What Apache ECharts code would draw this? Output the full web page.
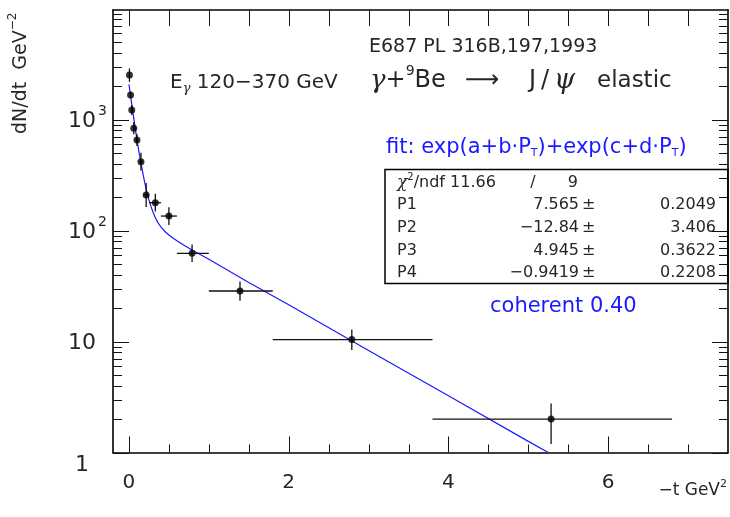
<!DOCTYPE html>
<html><head><meta charset="utf-8">
<script src="https://cdn.jsdelivr.net/npm/echarts@6/dist/echarts.min.js"></script>
<style>html,body{margin:0;padding:0;background:#fff}#c{width:730px;height:517px}</style>
</head><body><div id="c"></div>
<script>
// ---------- data ----------
const tValues = [0.006, 0.02, 0.035, 0.06, 0.10, 0.15, 0.215, 0.33, 0.50, 0.79, 1.39, 2.79, 5.285];
const tLow    = [0.001, 0.013, 0.027, 0.048, 0.08, 0.125, 0.18, 0.25, 0.40, 0.60, 1.00, 1.80, 3.80];
const tHigh   = [0.011, 0.027, 0.043, 0.072, 0.12, 0.175, 0.25, 0.40, 0.60, 1.00, 1.80, 3.80, 6.80];
const yValues = [2514, 1660, 1218, 834, 653, 417, 209, 178, 135, 62.3, 28.5, 10.4, 2.0];
const yLow    = [2188, 1549, 1098, 737, 577, 347, 163, 148, 112, 52, 23.3, 8.4, 1.19];
const yHigh   = [2884, 1778, 1349, 944, 740, 501, 268, 214, 162, 75, 34.8, 12.8, 2.77];

const fitT = [0, 0.0125, 0.025, 0.0375, 0.05, 0.0625, 0.075, 0.0875, 0.1, 0.125, 0.15, 0.175, 0.2, 0.225, 0.25, 0.275, 0.3, 0.325, 0.35, 0.375, 0.4, 0.45, 0.5, 0.55, 0.6, 0.7, 0.8, 1.0, 1.5, 2.0, 3.0, 4.0, 5.0, 5.25];
const fitY = [2070, 1780, 1537, 1330, 1149, 998, 867, 755, 662, 512, 403, 325, 264, 221, 189, 165, 147, 133, 122, 114, 108, 98, 91, 85.5, 81, 73, 66, 55, 34, 21.4, 8.3, 3.25, 1.26, 1.0];

const xMajorTicks = [0, 2, 4, 6];
const xMinorTicks = [0.5, 1, 1.5, 2.5, 3, 3.5, 4.5, 5, 5.5, 6.5, 7];
const xTopTicks = [0, 0.5, 1, 1.5, 2, 2.5, 3, 3.5, 4, 4.5, 5, 5.5, 6, 6.5, 7];
const yMajorTicks = [1, 10, 100, 1000];
const yTickBase = ['1', '10', '10', '10'];
const yTickExp = ['', '', '2', '3'];
const yMinorTicks = [2,3,4,5,6,7,8,9,20,30,40,50,60,70,80,90,200,300,400,500,600,700,800,900,2000,3000,4000,5000,6000,7000,8000,9000];

const statNames = ['P1', 'P2', 'P3', 'P4'];
const statValues = ['7.565', '\u221212.84', '4.945', '\u22120.9419'];
const statErrors = ['0.2049', '3.406', '0.3622', '0.2208'];

const X_MIN = -0.2, X_MAX = 7.5, Y_MIN = 1, Y_MAX = 9700;

// ---------- helpers ----------
const F = '"DejaVu Sans", "Liberation Sans", sans-serif';
const FS = '"DejaVu Serif", "Liberation Serif", serif';
const f = (s, extra) => (extra ? extra + ' ' : '') + s + 'px ' + F;
const fi = (s) => 'italic ' + s + 'px ' + FS;
const TXT = '#262626', BLUE = '#1a1aff';
const cv = document.createElement('canvas').getContext('2d');
function tw(t, font) { cv.font = font; return cv.measureText(t).width; }
function run(x, y, segs, fill, align) {
  const ws = segs.map(s => tw(s.t, s.font));
  const tot = ws.reduce((a, b) => a + b, 0);
  let cx = align === 'right' ? x - tot : align === 'center' ? x - tot / 2 : x;
  return segs.map((s, i) => {
    const e = { type: 'text', x: cx + (s.dx || 0), y: y + (s.dy || 0), silent: true,
      style: { text: s.t, font: s.font, fill: s.fill || fill, align: 'left', verticalAlign: 'middle' } };
    cx += ws[i] + (s.dx || 0);
    return e;
  });
}

// tick data: [x, y, side, major]
const tickData = [];
xMajorTicks.forEach(v => tickData.push([v, Y_MIN, 0, 1]));
xMinorTicks.forEach(v => tickData.push([v, Y_MIN, 0, 0]));
xTopTicks.forEach(v => tickData.push([v, Y_MIN, 1, 1]));
yMajorTicks.forEach(v => { tickData.push([X_MIN, v, 2, 1]); tickData.push([X_MIN, v, 3, 1]); });
yMinorTicks.forEach(v => { tickData.push([X_MIN, v, 2, 0]); tickData.push([X_MIN, v, 3, 0]); });

const errData = tValues.map((t, i) => [t, yValues[i], tLow[i], tHigh[i], yLow[i], yHigh[i]]);
const ptData = tValues.map((t, i) => [t, yValues[i]]);
const fitData = fitT.map((t, i) => [t, fitY[i]]);
const yLabData = yMajorTicks.map((v, i) => [X_MIN, v, i]);

const chart = echarts.init(document.getElementById('c'), null, { renderer: 'canvas' });

const graphics = [];
// titles
graphics.push(...run(369, 47, [{ t: 'E687 PL 316B,197,1993', font: f(19) }], TXT));
graphics.push(...run(370, 81, [
  { t: '\u03b3', font: fi(26) }, { t: '+', font: f(24) }, { t: '9', font: f(14), dy: -10 },
  { t: 'Be', font: f(24) }
], TXT));
graphics.push(...run(465, 81, [{ t: '\u27f6', font: f(24) }], TXT));
graphics.push(...run(529, 81, [{ t: 'J', font: f(24) }], TXT));
graphics.push(...run(541, 81, [{ t: '/', font: f(24) }], TXT));
graphics.push(...run(554, 81, [{ t: '\u03c8', font: fi(27) }], TXT));
graphics.push(...run(597, 81, [{ t: 'elastic', font: f(23) }], TXT));
graphics.push(...run(170, 83, [
  { t: 'E', font: f(20) }, { t: '\u03b3', font: fi(13), dy: 6 }, { t: ' 120\u2212370 GeV', font: f(20) }
], TXT));
graphics.push(...run(386, 148, [
  { t: 'fit: exp(a+b\u00b7P', font: f(21) }, { t: 'T', font: f(11), dy: 5 },
  { t: ')+exp(c+d\u00b7P', font: f(21) }, { t: 'T', font: f(11), dy: 5 }, { t: ')', font: f(21) }
], BLUE));
graphics.push(...run(490, 307, [{ t: 'coherent 0.40', font: f(21) }], BLUE));
// stats box
graphics.push({ type: 'rect', silent: true, shape: { x: 385, y: 169.5, width: 343, height: 114 },
  style: { fill: 'none', stroke: '#000', lineWidth: 1.5 } });
graphics.push(...run(397, 183, [
  { t: '\u03c7', font: fi(17) }, { t: '2', font: f(10), dy: -6 }, { t: '/ndf 11.66', font: f(16) }
], TXT));
graphics.push(...run(533, 183, [{ t: '/', font: f(16) }], TXT, 'center'));
graphics.push(...run(578, 183, [{ t: '9', font: f(16) }], TXT, 'right'));
statNames.forEach((n, i) => {
  const y = 205 + i * 22.7;
  graphics.push(...run(397, y, [{ t: n, font: f(16) }], TXT));
  graphics.push(...run(579, y, [{ t: statValues[i], font: f(16) }], TXT, 'right'));
  graphics.push(...run(582, y, [{ t: '\u00b1', font: f(16) }], TXT));
  graphics.push(...run(716, y, [{ t: statErrors[i], font: f(16) }], TXT, 'right'));
});
// axis titles
graphics.push({ type: 'group', x: 21, y: 134, rotation: Math.PI / 2,
  children: run(0, 0, [{ t: 'dN/dt  GeV', font: f(19) }, { t: '\u22122', font: f(12), dy: -8 }], TXT) });
graphics.push(...run(727, 491, [{ t: '\u2212t GeV', font: f(17) }, { t: '2', font: f(11), dy: -7 }], TXT, 'right'));

const axisLineStyle = { show: true, onZero: false, lineStyle: { color: '#000', width: 1.6 } };
const option = {
  animation: false,
  backgroundColor: '#fff',
  grid: { left: 113, right: 2, top: 10, bottom: 64.5, containLabel: false, outerBoundsMode: 'none' },
  xAxis: [
    { type: 'value', position: 'bottom', min: X_MIN, max: X_MAX,
      axisLine: axisLineStyle, axisTick: { show: false }, splitLine: { show: false },
      axisLabel: { customValues: xMajorTicks, fontSize: 20, fontFamily: F, color: TXT, margin: 20,
        formatter: v => (Math.abs(v % 2) < 1e-9 && v >= 0) ? String(v) : '' } },
    { type: 'value', position: 'top', min: X_MIN, max: X_MAX,
      axisLine: axisLineStyle, axisTick: { show: false }, splitLine: { show: false }, axisLabel: { show: false } }
  ],
  yAxis: [
    { type: 'log', logBase: 10, position: 'left', min: Y_MIN, max: Y_MAX,
      axisLine: axisLineStyle, axisTick: { show: false }, splitLine: { show: false }, axisLabel: { show: false } },
    { type: 'log', logBase: 10, position: 'right', min: Y_MIN, max: Y_MAX,
      axisLine: axisLineStyle, axisTick: { show: false }, splitLine: { show: false }, axisLabel: { show: false } }
  ],
  series: [
    { type: 'custom', name: 'ticks', xAxisIndex: 0, yAxisIndex: 0, silent: true, clip: false, z: 5,
      data: tickData,
      renderItem: (params, api) => {
        const cs = params.coordSys;
        const side = api.value(2), major = api.value(3);
        let x1, y1, x2, y2;
        if (side === 0 || side === 1) {
          const p = api.coord([api.value(0), Y_MIN]);
          const x = Math.round(p[0]) + 0.5;
          const len = major ? 16 : 8;
          x1 = x2 = x;
          if (side === 0) { y1 = cs.y + cs.height; y2 = y1 - len; } else { y1 = cs.y; y2 = y1 + len; }
        } else {
          const p = api.coord([X_MIN, api.value(1)]);
          const y = Math.round(p[1]) + 0.5;
          const len = major ? 16 : 9;
          y1 = y2 = y;
          if (side === 2) { x1 = cs.x; x2 = x1 + len; } else { x1 = cs.x + cs.width; x2 = x1 - len; }
        }
        return { type: 'line', shape: { x1, y1, x2, y2 }, style: { stroke: '#111', lineWidth: 1 } };
      } },
    { type: 'custom', name: 'ylabels', xAxisIndex: 0, yAxisIndex: 0, silent: true, clip: false,
      data: yLabData,
      renderItem: (params, api) => {
        const cs = params.coordSys;
        const i = api.value(2);
        const p = api.coord([X_MIN, api.value(1)]);
        const low = i === 0 ? 13 : 2;
        const children = [{ type: 'text', x: cs.x - 31, y: p[1] + low,
          style: { text: yTickBase[i], font: f(22), fill: TXT, align: 'center', verticalAlign: 'middle' } }];
        if (yTickExp[i]) children.push({ type: 'text', x: cs.x - 15, y: p[1] - 8,
          style: { text: yTickExp[i], font: f(14), fill: TXT, align: 'left', verticalAlign: 'middle' } });
        return { type: 'group', children };
      } },
    { type: 'line', name: 'fit', data: fitData, showSymbol: false, symbol: 'none', smooth: false,
      lineStyle: { color: BLUE, width: 1.2 }, z: 2, clip: true },
    { type: 'custom', name: 'errors', silent: true, z: 3, data: errData,
      renderItem: (params, api) => {
        const t = api.value(0), y = api.value(1);
        const a = api.coord([api.value(2), y]), b = api.coord([api.value(3), y]);
        const c = api.coord([t, api.value(4)]), d = api.coord([t, api.value(5)]);
        const st = { stroke: '#111', lineWidth: 1.3 };
        return { type: 'group', children: [
          { type: 'line', shape: { x1: a[0], y1: a[1], x2: b[0], y2: b[1] }, style: st },
          { type: 'line', shape: { x1: c[0], y1: c[1], x2: d[0], y2: d[1] }, style: st }
        ] };
      } },
    { type: 'scatter', name: 'data', data: ptData, symbol: 'circle', symbolSize: 7,
      itemStyle: { color: '#000' }, z: 4 }
  ],
  graphic: graphics
};
chart.setOption(option);
</script>
</body></html>
